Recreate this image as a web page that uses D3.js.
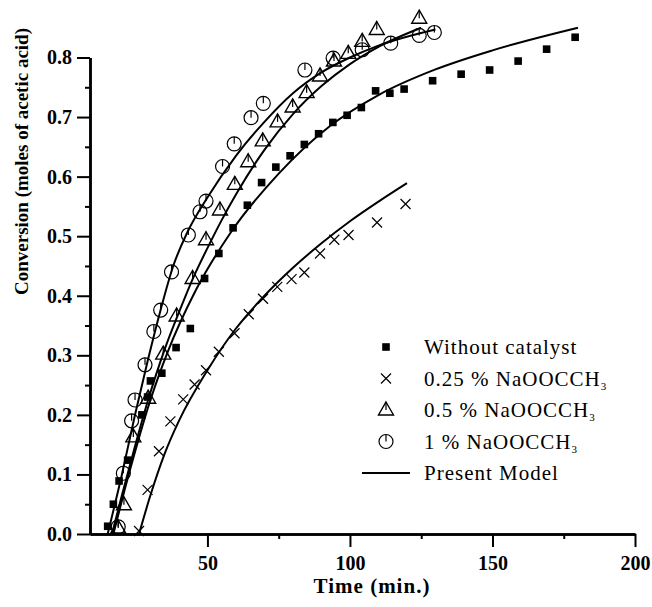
<!DOCTYPE html>
<html>
<head>
<meta charset="utf-8">
<script src="https://cdn.jsdelivr.net/npm/d3@7"></script>
<style>
  body { margin: 0; background: #fff; }
  text { font-family: 'Liberation Serif', 'Times New Roman', serif; fill: #000; }
</style>
</head>
<body>
<div class="canvas"></div>
<script>
const width = 652;
const height = 607;

// measured points (time in min, conversion)
const tNone = [15, 17, 19, 22, 27, 29, 30, 34, 39, 44, 49, 54, 59, 64, 69, 74, 79, 84, 89, 94, 99, 104, 109, 114, 119, 129, 139, 149, 159, 169, 179];
const yNone = [0.013, 0.05, 0.089, 0.124, 0.2, 0.23, 0.257, 0.27, 0.313, 0.345, 0.429, 0.471, 0.514, 0.552, 0.59, 0.616, 0.635, 0.654, 0.672, 0.691, 0.703, 0.716, 0.744, 0.74, 0.747, 0.761, 0.772, 0.779, 0.794, 0.814, 0.834];

const tCat25 = [26, 29, 33, 37, 41.5, 45.5, 49.5, 54, 59.5, 64.5, 69.5, 74.5, 79.5, 84, 89.5, 94.5, 99.5, 109.5, 119.5];
const yCat25 = [0.005, 0.074, 0.139, 0.189, 0.226, 0.251, 0.275, 0.306, 0.337, 0.369, 0.395, 0.415, 0.428, 0.439, 0.471, 0.494, 0.502, 0.523, 0.554];

const tCat50 = [18.7, 20.7, 24, 29.2, 34.5, 39.2, 44.8, 49.5, 54.4, 59.6, 64.3, 69.4, 74.6, 79.9, 84.8, 89.5, 94.4, 99.4, 104.3, 109.4, 124.3];
const yCat50 = [0.01, 0.049, 0.163, 0.228, 0.302, 0.366, 0.429, 0.494, 0.544, 0.587, 0.625, 0.66, 0.692, 0.717, 0.741, 0.769, 0.794, 0.807, 0.827, 0.847, 0.866];

const tCat100 = [18.7, 20.5, 23.4, 24.6, 28.1, 31.2, 33.6, 37.4, 43.3, 47.4, 49.5, 55.3, 59.4, 65.3, 69.6, 84.2, 94.1, 104.3, 114.3, 124.3, 129.6];
const yCat100 = [0.012, 0.102, 0.19, 0.225, 0.284, 0.34, 0.376, 0.44, 0.502, 0.541, 0.559, 0.617, 0.655, 0.699, 0.723, 0.779, 0.799, 0.813, 0.824, 0.837, 0.842];

// model curves
const mtNone = [17, 21, 25, 30, 36, 46, 58, 75, 93, 110, 130, 150, 180];
const myNone = [0, 0.075, 0.145, 0.225, 0.305, 0.41, 0.505, 0.605, 0.685, 0.737, 0.78, 0.812, 0.85];
const mtCat25 = [26, 30, 35, 40, 50, 60, 70, 80, 90, 100, 110, 120];
const myCat25 = [0, 0.065, 0.135, 0.19, 0.275, 0.345, 0.4, 0.447, 0.488, 0.525, 0.558, 0.589];
const mtCat50 = [16.5, 20, 24, 29, 35, 40, 45, 50, 55, 60, 70, 80, 90, 100, 110, 125];
const myCat50 = [0, 0.065, 0.137, 0.222, 0.31, 0.372, 0.43, 0.48, 0.527, 0.57, 0.645, 0.705, 0.752, 0.789, 0.818, 0.85];
const mtCat100 = [15, 20, 24.5, 29, 33.5, 38, 43, 50, 60, 70, 80, 90, 100, 110, 130];
const myCat100 = [0, 0.1, 0.198, 0.29, 0.375, 0.45, 0.507, 0.565, 0.635, 0.692, 0.74, 0.775, 0.8, 0.82, 0.847];

const xTicks = [50, 100, 150, 200];
const xMinor = [75, 125, 175];
const yTicks = [0, 0.1, 0.2, 0.3, 0.4, 0.5, 0.6, 0.7, 0.8];
const yMinor = [0.05, 0.15, 0.25, 0.35, 0.45, 0.55, 0.65, 0.75];

const legendLabels = ['Without catalyst', '0.25 % NaOOCCH', '0.5 % NaOOCCH', '1 % NaOOCCH', 'Present Model'];

const svg = d3
  .select('.canvas')
  .append('svg')
  .attr('width', width)
  .attr('height', height);

const x = d3.scaleLinear().domain([8.8, 200]).range([90, 635]);
const y = d3.scaleLinear().domain([0, 0.8]).range([534, 57.5]);

// axes
const yAxis = d3.axisLeft(y).tickValues(yTicks).tickFormat(d3.format('.1f')).tickSize(13).tickSizeOuter(0).tickPadding(5);
const yAxisMinor = d3.axisLeft(y).tickValues(yMinor).tickFormat('').tickSize(5).tickSizeOuter(0);
const xAxis = d3.axisBottom(x).tickValues(xTicks).tickSize(13).tickSizeOuter(0).tickPadding(9);
const xAxisMinor = d3.axisBottom(x).tickValues(xMinor).tickFormat('').tickSize(5).tickSizeOuter(0);

function styleAxis(g) {
  g.select('.domain').attr('stroke-width', 2.5);
  g.selectAll('.tick line').attr('stroke-width', 2);
  g.selectAll('.tick text')
    .style('font-family', "'Liberation Serif', serif")
    .style('font-size', '20px')
    .style('font-weight', 'bold');
}

svg.append('g').attr('transform', 'translate(90,0)').call(yAxisMinor).call(styleAxis);
svg.append('g').attr('transform', 'translate(90,0)').call(yAxis).call(styleAxis);
svg.append('g').attr('transform', 'translate(0,534)').call(xAxisMinor).call(styleAxis);
svg.append('g').attr('transform', 'translate(0,534)').call(xAxis).call(styleAxis);

svg.append('text')
  .attr('transform', 'translate(28,161.5) rotate(-90)')
  .attr('text-anchor', 'middle')
  .style('font-size', '19px')
  .style('font-weight', 'bold')
  .text('Conversion (moles of acetic acid)');

svg.append('text')
  .attr('x', 372)
  .attr('y', 593)
  .attr('text-anchor', 'middle')
  .style('font-size', '21px')
  .style('font-weight', 'bold')
  .style('letter-spacing', '1px')
  .text('Time (min.)');

// model lines
const line = d3.line().x((d) => x(d[0])).y((d) => y(d[1])).curve(d3.curveMonotoneX);
[[mtNone, myNone], [mtCat25, myCat25], [mtCat50, myCat50], [mtCat100, myCat100]].forEach(([ts, ys]) => {
  svg.append('path')
    .datum(ts.map((t, i) => [t, ys[i]]))
    .attr('d', line)
    .attr('fill', 'none')
    .attr('stroke', '#000')
    .attr('stroke-width', 2);
});

// marker drawing
function square(g) {
  g.append('rect').attr('x', -3.8).attr('y', -3.8).attr('width', 7.6).attr('height', 7.6).attr('fill', '#000');
}
function cross(g) {
  g.append('path').attr('d', 'M-5,-5L5,5M-5,5L5,-5').attr('stroke', '#000').attr('stroke-width', 1.2).attr('fill', 'none');
}
function triangle(g) {
  g.append('path').attr('d', 'M0,-8L7.5,5L-7.5,5Z').attr('stroke', '#000').attr('stroke-width', 1.4).attr('fill', 'none');
  g.append('path').attr('d', 'M0,-8L0,0').attr('stroke', '#000').attr('stroke-width', 1.2);
}
function ring(g) {
  g.append('circle').attr('r', 7).attr('stroke', '#000').attr('stroke-width', 1.2).attr('fill', 'none');
  g.append('path').attr('d', 'M0,-7L0,0').attr('stroke', '#000').attr('stroke-width', 1.2);
}

function drawPoints(ts, ys, marker) {
  svg.append('g')
    .selectAll('g')
    .data(ts.map((t, i) => [t, ys[i]]))
    .enter()
    .append('g')
    .attr('transform', (d) => `translate(${x(d[0])},${y(d[1])})`)
    .each(function () {
      marker(d3.select(this));
    });
}

drawPoints(tNone, yNone, square);
drawPoints(tCat25, yCat25, cross);
drawPoints(tCat50, yCat50, triangle);
drawPoints(tCat100, yCat100, ring);

// legend
const markers = [square, cross, triangle, ring];
const legend = svg.append('g');
legendLabels.forEach((label, i) => {
  const cy = 347 + i * 31.5;
  if (i < 4) {
    markers[i](legend.append('g').attr('transform', `translate(386,${cy})`));
  } else {
    legend.append('line').attr('x1', 362).attr('x2', 410).attr('y1', cy).attr('y2', cy)
      .attr('stroke', '#000').attr('stroke-width', 2);
  }
  const t = legend.append('text')
    .attr('x', 424)
    .attr('y', cy + 7)
    .style('font-size', '21px')
    .style('letter-spacing', '1px')
    .text(label);
  if (i >= 1 && i <= 3) {
    t.append('tspan').attr('dy', 4).style('font-size', '11px').text('3');
  }
});
</script>
</body>
</html>
